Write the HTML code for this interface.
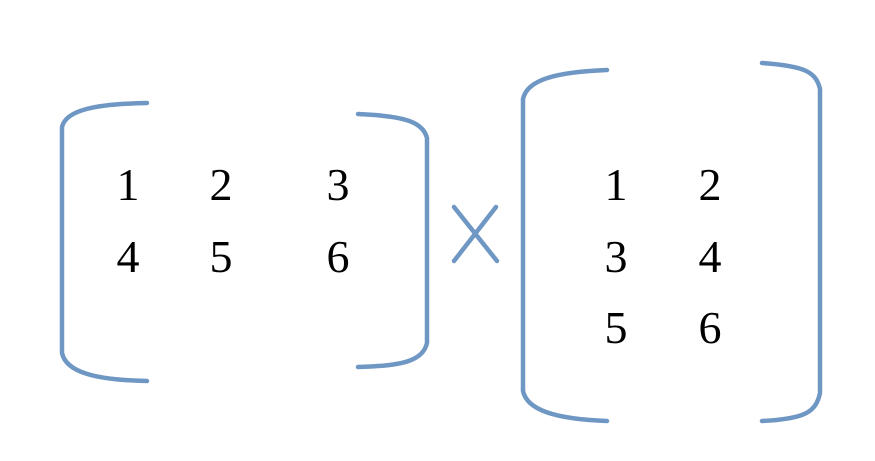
<!DOCTYPE html>
<html><head><meta charset="utf-8"><style>
html,body{margin:0;padding:0;background:#fff;width:875px;height:461px;overflow:hidden}
</style></head><body>
<svg width="875" height="461" xmlns="http://www.w3.org/2000/svg">
<g fill="none" stroke="#6f97c4" stroke-width="4.5" stroke-linecap="round">
<path d="M147,103 C95,104 66,110 62,127 L62,353 C66,372 95,380 147,381"/>
<path d="M358,114 C405,116 423,122 427,138 L427,343 C423,360 405,366 358,367"/>
<path d="M454,207 L497,261 M496,207 L454,261"/>
<path d="M607,70 C555,72 527,80 523,99 L523,391 C527,410 555,419 607,421"/>
<path d="M762,63 C805,66 816,72 820,89 L820,393 C816,412 805,419 762,421"/>
</g>
<g font-family="Liberation Serif, serif" font-size="46" fill="#000" text-anchor="middle">
<text x="128" y="200">1</text><text x="221" y="200">2</text><text x="338" y="200">3</text>
<text x="128" y="272">4</text><text x="221" y="272">5</text><text x="338" y="272">6</text>
<text x="616" y="200">1</text><text x="710" y="200">2</text>
<text x="616" y="272">3</text><text x="710" y="272">4</text>
<text x="616" y="343">5</text><text x="710" y="343">6</text>
</g>
</svg>
</body></html>
